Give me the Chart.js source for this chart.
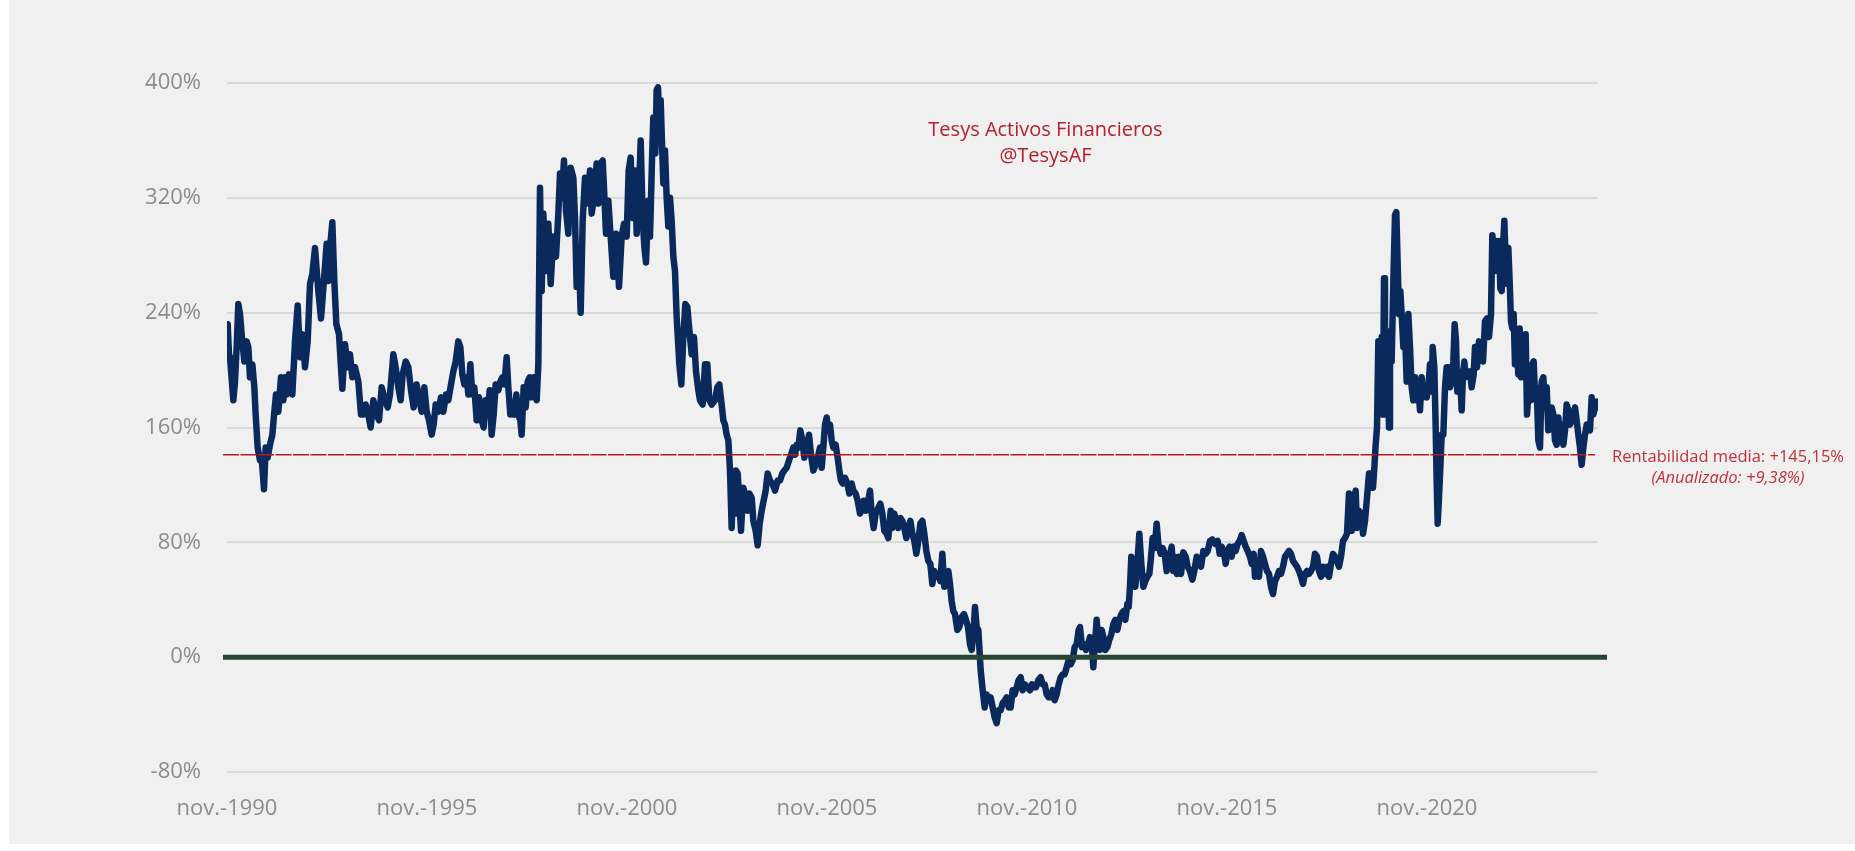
<!DOCTYPE html>
<html>
<head>
<meta charset="utf-8">
<title>Rentabilidad acumulada</title>
<script src="https://cdn.jsdelivr.net/npm/chart.js@4.4.1/dist/chart.umd.min.js"></script>
<style>
    html, body { margin: 0; padding: 0; background: #ffffff; overflow: hidden; }
    #frame { position: absolute; left: 0; top: 0; width: 1855px; height: 851px; background: #f0f0f0; }
    #edgeL { position: absolute; left: 0; top: 0; width: 9px; height: 851px; background: #ffffff; }
    #edgeB { position: absolute; left: 0; top: 844px; width: 1855px; height: 7px; background: #ffffff; }
    canvas { position: absolute; left: 0; top: 0; }
</style>
</head>
<body>
<div id="frame"><canvas id="chart" width="1855" height="851"></canvas></div>
<div id="edgeL"></div>
<div id="edgeB"></div>
<script>
// meses desde nov.-1990 / rentabilidad acumulada (%)
const monthsA = [0.2, 0.6, 0.9, 1.9, 2.4, 2.9, 3.4, 3.9, 4.4, 5.2, 5.9, 6.4, 6.9, 7.6, 8.2, 8.6, 9.2, 9.9, 10.4, 11.1,
    11.6, 12.2, 12.9, 13.6, 14.2, 14.7, 15.4, 16.2, 16.9, 17.4, 17.9, 18.6, 19.6, 20.4, 21.2, 21.9, 22.6, 23.4, 24.2, 24.9,
    25.6, 26.4, 27.4, 28.2, 29.0, 29.9, 30.4, 30.9, 31.6, 32.2, 32.8, 33.6, 34.2, 34.6, 35.4, 36.2, 36.9, 37.6, 38.4, 39.4,
    40.2, 40.9, 41.6, 42.4, 43.1, 43.9, 44.9, 45.6, 46.4, 47.4, 48.2, 48.9, 49.9, 50.6, 51.4, 52.1, 52.7, 53.6, 54.4, 55.2,
    56.0, 56.9, 57.7, 58.4, 59.2, 59.9, 60.6, 61.4, 62.0, 62.6, 63.4, 64.2, 64.9, 65.7, 66.4, 67.2, 67.9, 68.6, 69.4, 70.0,
    70.6, 71.2, 71.9, 72.4, 73.0, 73.6, 74.2, 74.9, 75.6, 76.4, 77.0, 77.6, 78.2, 78.8, 79.4, 80.0, 80.6, 81.4, 82.0, 82.6,
    83.2, 83.9, 84.4, 85.0, 85.6, 86.2, 86.8, 87.4, 88.0, 88.4, 89.0, 89.6, 90.2, 90.8, 91.4, 92.0, 92.6];
const valuesA = [232, 211, 209, 179, 192, 216, 246, 239, 225, 206, 220, 216, 195, 204, 188, 169, 146, 137, 139, 117,
    146, 139, 148, 155, 171, 183, 171, 195, 179, 195, 183, 197, 183, 220, 245, 209, 225, 202, 220, 260,
    267, 285, 255, 236, 260, 288, 262, 285, 303, 262, 232, 225, 202, 187, 218, 202, 211, 195, 202, 192,
    169, 169, 176, 169, 160, 179, 169, 165, 188, 179, 174, 183, 211, 202, 188, 179, 197, 206, 202, 186,
    174, 190, 179, 171, 188, 171, 165, 155, 162, 176, 171, 181, 171, 183, 179, 190, 199, 206, 220, 216,
    197, 190, 195, 183, 204, 183, 188, 165, 181, 165, 160, 179, 169, 186, 155, 169, 190, 186, 192, 195,
    190, 209, 188, 169, 174, 169, 183, 169, 165, 155, 188, 174, 192, 195, 181, 195, 181];

const monthsB = [92.9, 93.4, 93.9, 94.4, 94.9, 95.7, 96.4, 97.1, 97.9, 98.7, 99.4, 99.9, 100.4, 101.1, 101.7, 102.4,
    103.1, 103.9, 104.4, 104.9, 105.7, 106.1, 106.7, 107.4, 107.9, 108.4, 108.9, 109.4, 110.1, 110.9, 111.4, 112.1,
    112.7, 113.1, 113.7, 114.4, 115.1, 115.9, 116.7, 117.6, 118.4, 119.1, 119.9, 120.5, 121.1, 121.7, 122.4, 122.9,
    123.5, 124.1, 124.7, 125.2, 125.7, 126.4, 126.9, 127.5, 127.9, 128.5, 128.9, 129.3, 129.7, 130.1, 130.5, 130.9,
    131.4, 131.9, 132.4, 132.9, 133.4, 133.9, 134.4, 134.9, 135.7, 136.3, 136.9, 137.5, 138.1, 138.7, 139.4, 140.1,
    140.7, 141.4, 141.9, 142.7, 143.4, 144.1, 144.7, 145.4, 146.4, 147.1, 147.7, 148.4];
const valuesB = [179, 204, 327, 255, 309, 269, 302, 260, 293, 279, 309, 337, 320, 346, 311, 295,
    341, 334, 306, 258, 269, 240, 304, 334, 316, 325, 339, 309, 320, 344, 316, 344,
    346, 327, 295, 318, 293, 265, 295, 258, 293, 302, 293, 339, 348, 306, 339, 295,
    316, 360, 306, 286, 275, 318, 293, 346, 376, 351, 395, 397, 372, 388, 358, 330,
    353, 320, 300, 320, 304, 279, 269, 237, 204, 190, 223, 246, 244, 228, 211, 223,
    199, 186, 179, 176, 204, 204, 179, 176, 179, 188, 190, 176];

const monthsC = [148.9, 149.4, 149.9, 150.4, 150.9, 151.4, 151.9, 152.4, 152.7, 153.2,
    153.7, 154.2, 154.9, 155.6, 156.2, 156.7, 157.4, 157.9, 158.6, 159.2,
    159.8, 160.4, 161.0, 161.6, 162.2, 162.9, 163.6, 164.4, 165.2, 165.9,
    166.6, 167.2, 167.9, 168.6, 169.2, 169.9, 170.4, 170.9, 171.4, 172.0,
    172.6, 173.2, 173.9, 174.6, 175.2, 175.9, 176.6, 177.2, 177.9, 178.4,
    178.9, 179.4, 179.9, 180.4, 180.9, 181.4, 181.9, 182.6, 183.2, 183.7,
    184.2, 184.7, 185.4, 186.1, 186.7, 187.4, 187.9, 188.6, 189.2, 189.9,
    190.4, 191.0, 191.6, 192.2, 192.9, 193.4, 194.0, 194.6, 195.4, 196.0,
    196.6, 197.2, 197.9, 198.4, 199.1, 199.6, 200.2, 200.9, 201.4, 202.0,
    202.6, 203.2, 203.8, 204.4, 205.0, 205.6, 206.2, 206.8, 207.4, 208.0,
    208.6, 209.2, 209.8, 210.4, 211.0, 211.6, 212.2, 212.8, 213.4, 214.0,
    214.6, 215.2];
const valuesC = [165, 162, 155, 151, 130, 90, 123, 100, 130, 128,
    109, 88, 118, 111, 102, 114, 111, 95, 88, 78,
    93, 102, 109, 116, 128, 123, 121, 116, 123, 123,
    128, 130, 132, 137, 141, 146, 141, 148, 146, 158,
    151, 139, 146, 155, 141, 130, 134, 139, 146, 132,
    146, 162, 167, 158, 162, 151, 146, 148, 139, 130,
    123, 121, 125, 121, 114, 121, 116, 114, 109, 100,
    104, 109, 102, 107, 116, 100, 90, 100, 104, 107,
    100, 88, 86, 83, 102, 90, 100, 93, 90, 97,
    95, 90, 83, 90, 95, 86, 81, 72, 81, 93,
    95, 86, 74, 67, 65, 51, 60, 56, 58, 53,
    72, 49];

const monthsD = [215.9, 216.4, 216.9, 217.4, 217.9, 218.4, 219.1, 219.7, 220.4, 221.1,
    221.7, 222.3, 222.9, 223.4, 223.9, 224.4, 224.9, 225.4, 225.7, 226.1,
    226.7, 227.3, 227.9, 228.5, 229.1, 229.7, 230.3, 230.9, 231.5, 232.1,
    232.7, 233.4, 233.9, 234.5, 235.1, 235.7, 236.3, 236.9, 237.5, 238.1,
    238.7, 239.4, 240.1, 240.9, 241.5, 242.1, 242.7, 243.4, 244.1, 244.7,
    245.3, 245.9, 246.5, 247.1, 247.7, 248.3, 248.9, 249.5, 250.1, 250.7,
    251.3, 251.9, 252.5, 253.1, 253.7, 254.3, 254.9, 255.5, 255.9, 256.5,
    257.1, 257.7, 258.3, 258.9, 259.5, 259.9, 260.3, 260.9, 261.3, 261.9,
    262.4, 262.9, 263.5, 264.1, 264.7, 265.3, 265.9, 266.5, 267.1, 267.7,
    268.3, 268.9, 269.5, 270.1, 270.5, 270.9, 271.3, 271.9, 272.5, 273.1,
    273.7, 274.3, 274.9, 275.5, 276.1, 276.7, 277.1, 277.7, 278.3, 278.9,
    279.4, 280.1, 280.7, 281.3, 281.9, 282.7];
const valuesD = [58, 60, 51, 39, 32, 30, 19, 21, 28, 30,
    26, 21, 9, 5, 16, 35, 21, 19, 7, -9,
    -23, -35, -26, -30, -28, -35, -42, -46, -37, -37,
    -32, -30, -28, -35, -35, -23, -26, -21, -16, -14,
    -23, -19, -21, -23, -19, -21, -21, -16, -14, -19,
    -19, -26, -28, -28, -23, -30, -26, -19, -14, -12,
    -12, -7, -2, -5, -2, 7, 9, 19, 21, 7,
    9, 5, 9, 14, 7, -7, 7, 26, 14, 5,
    19, 14, 5, 7, 12, 16, 23, 26, 19, 26,
    30, 32, 26, 37, 35, 49, 70, 63, 49, 65,
    86, 65, 49, 53, 56, 58, 67, 83, 76, 93,
    79, 72, 76, 72, 60, 70];

const monthsE = [283.4, 283.9, 284.4, 285.0, 285.6, 286.2, 286.9, 287.6, 288.2, 288.9,
    289.6, 290.2, 290.9, 291.6, 292.2, 292.9, 293.6, 294.2, 294.9, 295.6,
    296.4, 297.2, 297.8, 298.4, 299.0, 299.6, 300.2, 300.8, 301.4, 302.0,
    302.6, 303.2, 303.8, 304.4, 305.0, 305.6, 306.2, 306.9, 307.4, 308.0,
    308.4, 309.0, 309.6, 310.2, 310.8, 311.4, 312.0, 312.6, 313.2, 313.8,
    314.4, 315.0, 315.6, 316.2, 316.8, 317.4, 318.0, 318.6, 319.2, 319.8,
    320.4, 321.0, 321.6, 322.2, 322.8, 323.4, 324.0, 324.6, 325.2, 325.8,
    326.4, 327.0, 327.6, 328.2, 328.8, 329.4, 330.0, 330.6, 331.2, 331.8,
    332.4, 333.0, 333.6, 334.2, 334.8, 335.4, 336.0, 336.6, 337.0, 337.4,
    338.0, 338.6, 339.0, 339.6, 340.2, 340.8, 341.4, 342.0, 342.6, 343.2,
    343.8, 344.2, 344.6, 345.0, 345.4, 345.9, 346.4, 346.8, 347.1, 347.4,
    347.8, 348.2, 348.6];
const valuesE = [77, 60, 70, 58, 70, 58, 73, 70, 63, 60,
    54, 60, 70, 67, 63, 74, 72, 74, 81, 82,
    79, 81, 72, 77, 74, 65, 74, 77, 70, 77,
    74, 79, 81, 85, 81, 77, 74, 70, 65, 72,
    56, 65, 56, 74, 70, 65, 60, 58, 49, 44,
    53, 56, 60, 58, 63, 70, 72, 74, 72, 67,
    65, 63, 60, 56, 51, 58, 60, 58, 60, 63,
    72, 70, 60, 56, 63, 58, 63, 56, 65, 72,
    70, 67, 63, 70, 81, 83, 86, 114, 100, 88,
    109, 116, 90, 102, 100, 86, 95, 111, 128, 128,
    118, 132, 148, 160, 220, 202, 223, 169, 264, 220,
    169, 216, 160];

const monthsF = [348.9, 349.4, 349.9, 350.4, 350.8, 351.2, 351.6, 352.0, 352.4, 352.9,
    353.4, 353.9, 354.4, 354.9, 355.4, 355.9, 356.4, 356.9, 357.4, 357.9,
    358.4, 358.9, 359.4, 359.9, 360.4, 360.9, 361.4, 361.7, 362.2, 362.6,
    362.9, 363.2, 363.6, 364.0, 364.4, 364.9, 365.4, 365.9, 366.4, 366.9,
    367.4, 367.9, 368.3, 368.7, 369.1, 369.6, 370.0, 370.4, 370.8, 371.2,
    371.6, 372.2, 372.9, 373.4, 374.0, 374.4, 375.0, 375.6, 376.2, 376.8,
    377.4, 378.0, 378.6, 379.2, 379.6, 380.0, 380.4, 380.8, 381.2, 381.6,
    382.0, 382.4, 382.8, 383.2, 383.6, 384.0, 384.4, 384.8, 385.2, 385.6,
    386.0, 386.4, 386.9, 387.4, 387.8, 388.2, 388.6, 389.2, 389.6, 390.0,
    390.4, 390.8, 391.2, 391.6, 392.0, 392.4, 392.9, 393.4, 393.9, 394.4,
    394.9, 395.4, 395.9, 396.4, 396.9, 397.4, 397.9, 398.4, 398.9, 399.4,
    399.9, 400.4, 400.9, 401.4, 401.9, 402.4, 402.9, 403.4, 403.9, 404.4,
    404.9, 405.4, 405.9, 406.4, 406.9, 407.4, 407.9, 408.4, 408.9, 409.4,
    409.9, 410.4, 410.9, 411.2];
const valuesF = [227, 206, 262, 308, 310, 274, 239, 255, 239, 216,
    227, 192, 239, 216, 188, 179, 195, 179, 188, 172,
    195, 181, 185, 181, 188, 204, 185, 216, 202, 160,
    123, 93, 111, 132, 155, 155, 188, 202, 202, 188,
    192, 206, 232, 220, 185, 199, 192, 172, 197, 206,
    195, 197, 199, 188, 197, 216, 202, 220, 213, 206,
    234, 236, 223, 239, 294, 285, 269, 290, 274, 290,
    257, 255, 285, 304, 276, 260, 285, 262, 234, 229,
    239, 204, 220, 197, 229, 195, 223, 195, 225, 169,
    183, 197, 179, 204, 206, 183, 188, 151, 146, 192,
    195, 174, 188, 158, 165, 174, 169, 151, 148, 167,
    153, 162, 148, 158, 176, 172, 162, 165, 169, 174,
    165, 155, 146, 134, 146, 155, 162, 160, 158, 181,
    169, 174, 178, 174];

const tickMonths = [0, 60, 120, 180, 240, 300, 360];
const tickLabels = ['nov.-1990', 'nov.-1995', 'nov.-2000', 'nov.-2005', 'nov.-2010', 'nov.-2015', 'nov.-2020'];
const yTicks = [-80, 0, 80, 160, 240, 320, 400];
const meanLevel = 141;          // posicion de la linea de media en el grafico
const zeroSpan = [-1.2, 414];   // la linea del 0% sobresale un poco del area
const meanSpan = [-1.2, 410.4];
const titleLines = ['Tesys Activos Financieros', '@TesysAF'];
const meanLines = ['Rentabilidad media: +145,15%', '(Anualizado: +9,38%)'];

(function() {
    'use strict';

    const monthSets = [monthsA, monthsB, monthsC, monthsD, monthsE, monthsF];
    const valueSets = [valuesA, valuesB, valuesC, valuesD, valuesE, valuesF];
    const series = [];
    monthSets.forEach(function(ms, k) {
        const vs = valueSets[k];
        const n = Math.min(ms.length, vs.length);
        for (let i = 0; i < n; i++) series.push({ x: ms[i], y: vs[i] });
    });

    const GRAY = '#8c8c8c';
    const RED = '#b4202c';
    const FONT = '"Open Sans", "Segoe UI", sans-serif';

    const textPlugin = {
        id: 'textPlugin',
        afterDraw: function(chart) {
            const ctx = chart.ctx;
            const area = chart.chartArea;
            const yScale = chart.scales.y;
            ctx.save();
            ctx.fillStyle = RED;
            ctx.textAlign = 'center';
            ctx.textBaseline = 'alphabetic';
            ctx.font = '20px ' + FONT;
            const cx = (area.left + area.right) / 2 + 133;
            ctx.fillText(titleLines[0], cx, area.top + 53);
            ctx.fillText(titleLines[1], cx, area.top + 79);

            const my = yScale.getPixelForValue(meanLevel);
            const mx = area.right + 130;
            ctx.fillStyle = '#c0303a';
            ctx.font = '16.5px ' + FONT;
            ctx.fillText(meanLines[0], mx, my + 7);
            ctx.font = 'italic 16.5px ' + FONT;
            ctx.fillText(meanLines[1], mx, my + 28);
            ctx.restore();
        }
    };

    const ctx = document.getElementById('chart').getContext('2d');
    window.myChart = new Chart(ctx, {
        type: 'line',
        data: {
            datasets: [
                {
                    label: 'Rentabilidad acumulada',
                    data: series,
                    borderColor: '#0a2a5d',
                    borderWidth: 6.5,
                    borderJoinStyle: 'round',
                    borderCapStyle: 'round',
                    pointRadius: 0,
                    tension: 0,
                    order: 3
                },
                {
                    label: '0%',
                    data: zeroSpan.map(function(m) { return { x: m, y: 0 }; }),
                    borderColor: '#264532',
                    borderWidth: 5,
                    pointRadius: 0,
                    clip: false,
                    order: 2
                },
                {
                    label: 'Media',
                    data: meanSpan.map(function(m) { return { x: m, y: meanLevel }; }),
                    borderColor: '#c0141e',
                    borderWidth: 1.5,
                    borderDash: [16, 1.5],
                    pointRadius: 0,
                    clip: false,
                    order: 1
                }
            ]
        },
        options: {
            responsive: false,
            animation: false,
            events: [],
            layout: { padding: { top: 83, right: 257, left: 0, bottom: 0 } },
            plugins: { legend: { display: false }, tooltip: { enabled: false } },
            scales: {
                x: {
                    type: 'linear',
                    min: 0,
                    max: 411.3,
                    grid: { display: false, drawTicks: false },
                    border: { display: false },
                    afterBuildTicks: function(scale) {
                        scale.ticks = tickMonths.map(function(v) { return { value: v }; });
                    },
                    afterFit: function(scale) { scale.height = 79; },
                    ticks: {
                        autoSkip: false,
                        maxRotation: 0,
                        padding: 24,
                        color: GRAY,
                        font: { family: FONT, size: 22 },
                        callback: function(v, i) { return tickLabels[i]; }
                    }
                },
                y: {
                    min: -80,
                    max: 400,
                    afterBuildTicks: function(scale) {
                        scale.ticks = yTicks.map(function(v) { return { value: v }; });
                    },
                    afterFit: function(scale) { scale.width = 227; },
                    grid: { color: '#d9d9d9', lineWidth: 2, drawTicks: false },
                    border: { display: false },
                    ticks: {
                        padding: 26,
                        color: GRAY,
                        font: { family: FONT, size: 22 },
                        callback: function(v) { return v + '%'; }
                    }
                }
            }
        },
        plugins: [textPlugin]
    });
})();
</script>
</body>
</html>
